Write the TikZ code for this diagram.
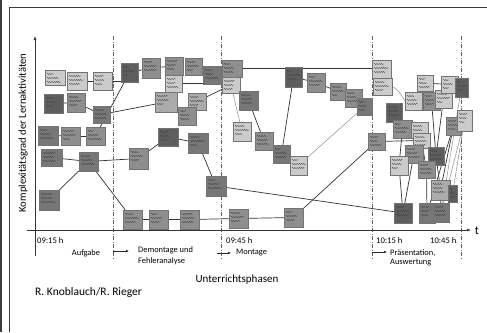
\documentclass[tikz,border=0pt]{standalone}
\usepackage{fontspec}
\setmainfont{Carlito}
\usetikzlibrary{arrows.meta,backgrounds,decorations.pathmorphing}

\definecolor{noteL}{HTML}{CBCBCB}
\definecolor{noteLM}{HTML}{ABABAB}
\definecolor{noteM}{HTML}{8E8E8E}
\definecolor{noteMD}{HTML}{777777}
\definecolor{noteD}{HTML}{5E5E5E}
\definecolor{linkc}{HTML}{333333}
\definecolor{linkl}{HTML}{9C9C9C}
\definecolor{framec}{HTML}{3C3C3C}

\tikzset{
  note/.style={draw=black!55,line width=0.35pt,inner sep=0pt,outer sep=0pt},
  scrib/.style={draw=black!75,line width=0.3pt,
    decorate,decoration={snake,amplitude=0.6pt,segment length=2.2pt}},
  link/.style={draw=linkc,line width=0.7pt},
  linklight/.style={draw=linkl,line width=0.6pt},
  phase/.style={draw=black!60,line width=0.5pt,dash pattern=on 4pt off 1.5pt on 1pt off 1.5pt},
  axis/.style={draw=black!80,line width=0.6pt},
  lbl/.style={font=\fontsize{8.4}{9}\selectfont,inner sep=0pt,anchor=west},
  tlbl/.style={font=\fontsize{8.6}{9}\selectfont,inner sep=0pt,anchor=west},
}

% sticky note with a few handwritten lines: name, x1, y1, x2, y2, fill colour
\newcommand\stick[6]{%
  \node[note,fill=#6,minimum width={(#4-#2)*1pt},minimum height={(#5-#3)*1pt}]
    (#1) at ({(#2+#4)/2},{(#3+#5)/2}) {};
  \draw[scrib] ([xshift=2pt,yshift=-4pt]#1.north west) -- +({(#4-#2)*(0.3+0.3*rnd)},0);
  \draw[scrib] ([xshift=2pt,yshift=-8pt]#1.north west) -- +({(#4-#2)*(0.45+0.35*rnd)},0);
  \draw[scrib] ([xshift=2pt,yshift=-12pt]#1.north west) -- +({(#4-#2)*(0.3+0.45*rnd)},0);
}

\begin{document}
\begin{tikzpicture}[x=1pt,y=-1pt]
\pgfmathsetseed{7}
\useasboundingbox (0,0) rectangle (487,332);

% outer frame
\draw[framec,line width=1.6pt] (1,0) -- (1,332);
\draw[framec,line width=1.5pt] (9,7.5) -- (487,7.5);
\draw[framec,line width=0.7pt] (9,7) -- (9,332);

% phase boundaries
\foreach \px in {113,221,372,461} \draw[phase] (\px,36) -- (\px,258);

% axes
\draw[axis,-{Latex[length=4pt,width=3pt]}] (35,256) -- (35,36);
\draw[axis,-{Latex[length=4pt,width=3pt]}] (27,230) -- (471,230);
\node[font=\fontsize{12}{12}\selectfont,inner sep=0pt] (tlab) at (477,231) {t};
\node[rotate=90,font=\fontsize{10.6}{12}\selectfont,inner sep=0pt] (ylab) at (23,133)
  {Komplexitätsgrad der Lernaktivitäten};

% time marks
\node[tlbl] (t1) at (37,241) {09:15 h};
\node[tlbl] (t2) at (226,241) {09:45 h};
\node[tlbl] (t3) at (376,241) {10:15 h};
\node[tlbl] (t4) at (430,241) {10:45 h};

% phase names
\node[lbl,anchor=center] (p1) at (86,253) {Aufgabe};
\node[lbl] (p2a) at (138,250) {Demontage und};
\node[lbl] (p2b) at (138,261.5) {Fehleranalyse};
\node[lbl] (p3) at (236,253) {Montage};
\node[lbl] (p4a) at (390,253) {Präsentation,};
\node[lbl] (p4b) at (390,263) {Auswertung};
\coordinate (a1s) at (113,251); \coordinate (a1e) at (129,251);
\coordinate (a2s) at (217,253); \coordinate (a2e) at (231,253);
\coordinate (a3s) at (372,252); \coordinate (a3e) at (387,252);
\foreach \s/\e in {a1s/a1e,a2s/a2e,a3s/a3e}
  \draw[black!85,line width=0.5pt,-{Latex[length=3pt,width=2.5pt]}] (\s) -- (\e);

\node[font=\fontsize{11}{12}\selectfont,inner sep=0pt] (phasen) at (237,280) {Unterrichtsphasen};
\node[font=\fontsize{11.5}{12}\selectfont,inner sep=0pt,anchor=west] (author) at (35,292) {R. Knoblauch/R. Rieger};

% ---- sticky notes: task phase
\stick{A}{45}{70}{65}{85}{noteL}
\stick{B}{67}{72}{87}{90}{noteL}
\stick{C}{93}{72}{112}{90}{noteL}
\stick{D}{44}{94}{63}{113}{noteD}
\stick{E}{67}{93}{85}{112}{noteM}
\stick{F}{93}{106}{110}{123}{noteMD}
\stick{G}{38}{126}{58}{145}{noteMD}
\stick{H}{61}{127}{80}{145}{noteM}
\stick{I}{86}{127}{105}{145}{noteM}
\stick{BA}{41}{149}{62}{166}{noteMD}
\stick{BB}{79}{152}{98}{171}{noteMD}
\stick{BD}{39}{190}{59}{210}{noteMD}

% ---- disassembly / fault analysis
\stick{J}{121}{63}{138}{82}{noteD}
\stick{K}{142}{58}{160}{78}{noteM}
\stick{L}{165}{57}{183}{75}{noteM}
\stick{LL}{185}{58}{202}{75}{noteM}
\stick{M}{165}{75}{182}{92}{noteL}
\stick{N}{155}{92}{177}{112}{noteLM}
\stick{P}{203}{66}{222}{84}{noteMD}
\stick{V}{188}{93}{206}{110}{noteLM}
\stick{W}{178}{107}{196}{125}{noteM}
\stick{O}{158}{128}{178}{146}{noteD}
\stick{AA}{188}{133}{208}{153}{noteMD}
\stick{AD}{206}{176}{226}{196}{noteMD}
\stick{BC}{129}{148}{148}{169}{noteM}
\stick{BE}{123}{210}{142}{229}{noteM}
\stick{AE}{149}{210}{168}{229}{noteM}
\stick{AF}{180}{210}{199}{229}{noteM}

% ---- assembly
\stick{Q}{222}{60}{242}{77}{noteM}
\stick{R}{222}{77}{240}{93}{noteL}
\stick{S}{239}{91}{258}{110}{noteMD}
\stick{X}{233}{122}{251}{141}{noteL}
\stick{Y}{255}{132}{273}{150}{noteM}
\stick{AB}{273}{145}{290}{163}{noteMD}
\stick{AC}{290}{156}{307}{175}{noteL}
\stick{T}{285}{67}{302}{87}{noteD}
\stick{U}{307}{73}{325}{92}{noteM}
\stick{Z}{330}{83}{346}{100}{noteM}
\stick{DA}{345}{89}{362}{107}{noteM}
\stick{DB}{357}{98}{372}{115}{noteMD}
\stick{AG}{229}{209}{248}{228}{noteM}
\stick{AH}{284}{208}{303}{227}{noteM}

% ---- presentation / evaluation
\stick{DC}{372}{60}{391}{78}{noteL}
\stick{DD}{373}{78}{392}{95}{noteL}
\stick{DF}{386}{103}{402}{122}{noteD}
\stick{DG}{405}{92}{422}{110}{noteL}
\stick{DH}{417}{75}{433}{91}{noteL}
\stick{DI}{423}{92}{440}{110}{noteM}
\stick{DJ}{435}{90}{452}{108}{noteL}
\stick{DK}{441}{76}{458}{93}{noteL}
\stick{DL}{455}{78}{468}{97}{noteD}
\stick{DO}{393}{120}{412}{138}{noteM}
\stick{DP}{411}{122}{428}{138}{noteL}
\stick{DM}{446}{117}{461}{135}{noteM}
\stick{DN}{457}{110}{472}{131}{noteL}
\stick{CA}{368}{133}{385}{150}{noteM}
\stick{CK}{413}{133}{430}{148}{noteL}
\stick{CF}{405}{145}{423}{163}{noteM}
\stick{CE}{390}{156}{408}{175}{noteL}
\stick{CH}{428}{147}{444}{165}{noteD}
\stick{CG}{418}{161}{435}{178}{noteM}
\stick{CI}{431}{180}{450}{200}{noteLM}
\stick{CJ}{448}{185}{457}{202}{noteD}
\stick{CB}{394}{203}{412}{223}{noteD}
\stick{CC}{419}{203}{435}{223}{noteMD}
\stick{CD}{433}{203}{449}{222}{noteMD}

% ---- connectors between the notes
\begin{pgfonlayer}{background}
\foreach \u/\v in {B/C,J/I,D/E,E/F,F/N,G/H,H/I,J/K,K/L,R/V,N/W,S/Y,T/U,T/AB,U/Z,
    BA/BB,BD/BB,BB/BE,BB/BC,BC/O,O/AA,AA/AD,AD/CB,BE/AE,AE/AF,AF/AG,AG/AH,AH/CA,
    CA/CK,Y/AB,DH/DK,Z/DA,DA/DB,DF/DO,DO/CE,CF/CB,CG/CC,CH/CI,DI/CH,DM/CI,CK/CG,
    CI/CD,DJ/CH,DP/CF,CE/CB,DM/CC}
  \draw[link] (\u) -- (\v);
\draw[link] (C) -- (C -| J.west);
\draw[link] (M) -- (M -| P.west);
\draw[link] (Q) -- (Q -| DC.west);
\foreach \u/\v in {R/X,DB/AC,DN/CJ,DL/CD,DN/CD}
  \draw[linklight] (\u) -- (\v);
\draw[linklight] (DD.east) .. controls (398,90) .. (DG.west);
\end{pgfonlayer}

\end{tikzpicture}
\end{document}
